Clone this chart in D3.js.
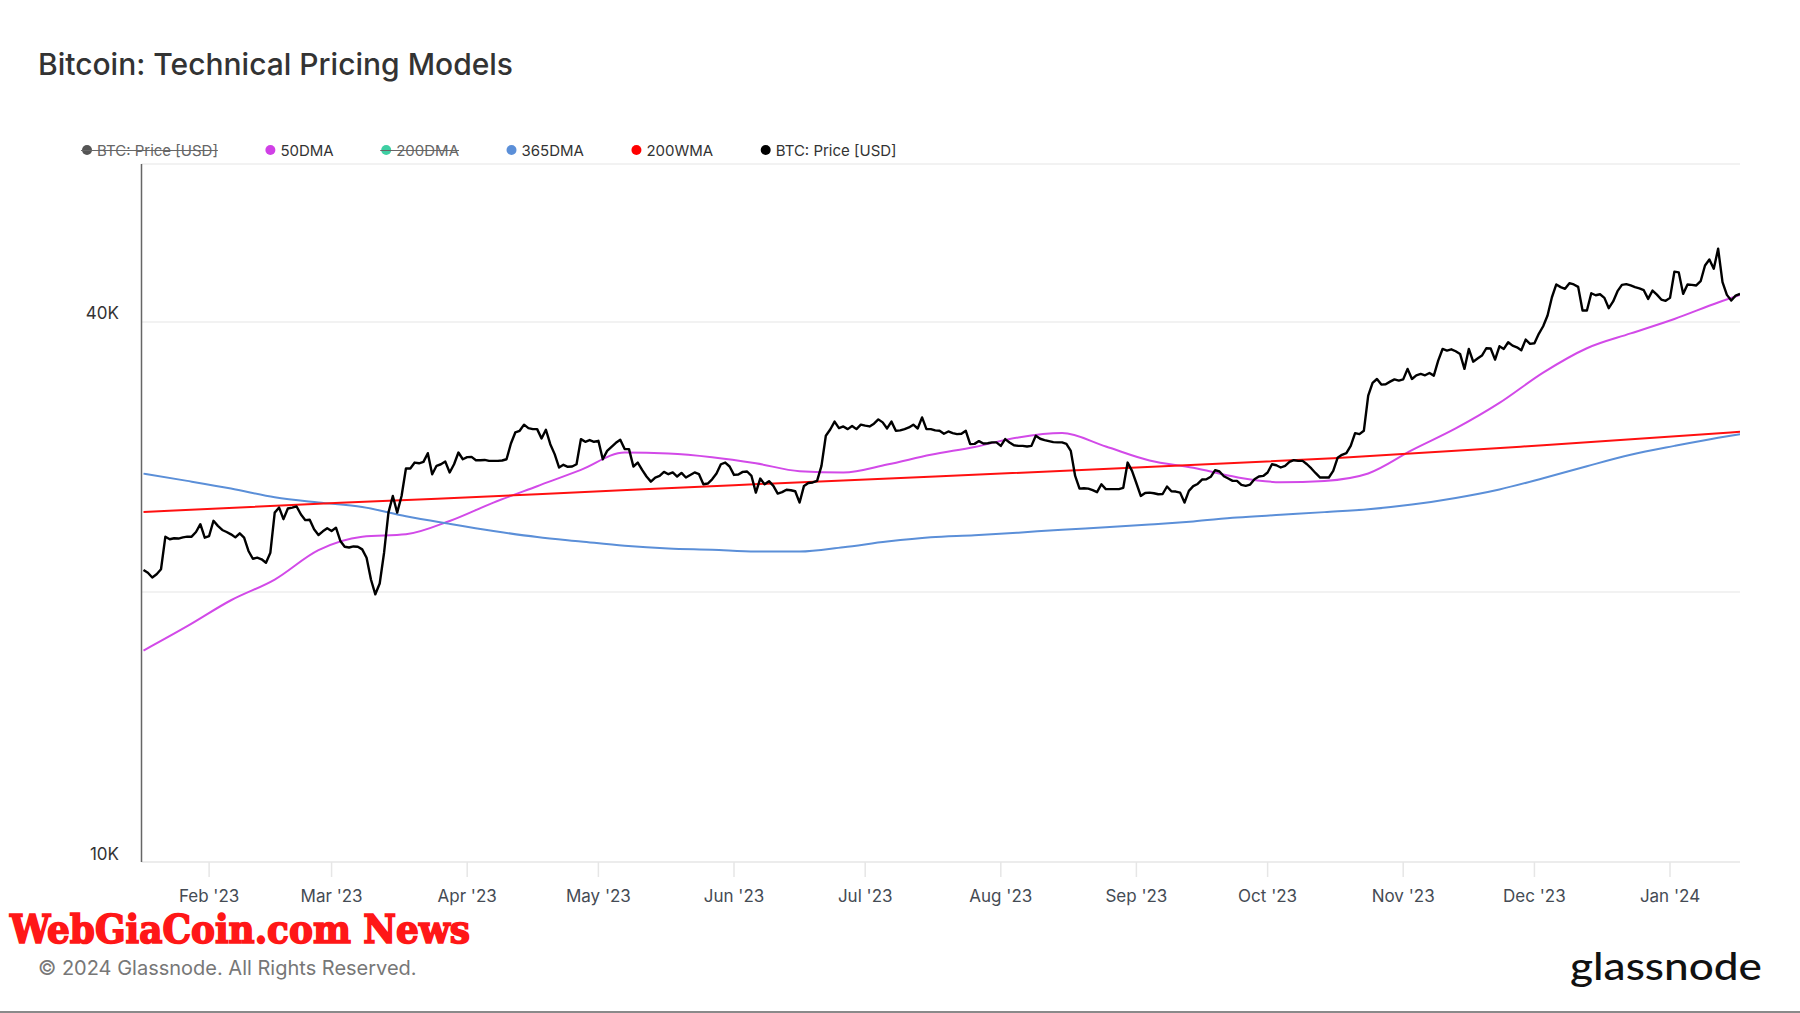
<!DOCTYPE html>
<html>
<head>
<meta charset="utf-8">
<script src="https://cdn.jsdelivr.net/npm/d3@7"></script>
<style>
  html, body { margin: 0; padding: 0; background: #fff; }
  svg { display: block; font-family: Inter, "Noto Sans", sans-serif; }
</style>
</head>
<body>
<svg id="chart" width="1800" height="1013"></svg>
<script>
// daily BTC price (USD), one value per day starting at priceStart
const priceStart = '2023-01-17';
const price = [
  21160, 21010, 20760, 20930, 21200, 23050, 22900, 22960, 22940, 23010,
  23050, 23050, 23330, 23800, 22990, 23090, 24010, 23700, 23450, 23330,
  23190, 23010, 23250, 22990, 22220, 21780, 21840, 21750, 21560, 22120,
  24520, 24840, 24110, 24780, 24840, 24910, 24400, 24050, 24070, 23490,
  23150, 23370, 23550, 23390, 23590, 22800, 22460, 22420, 22480, 22460,
  22310, 21840, 20650, 19880, 20440, 22120, 24520, 25590, 24520, 25590,
  27460, 27460, 27880, 27830, 27930, 28560, 27060, 27650, 27760, 27950,
  27180, 27760, 28610, 28120, 28270, 28290, 28050, 28050, 28070, 28000,
  28000, 28000, 28030, 28120, 29280, 30120, 30250, 30730, 30460, 30380,
  30380, 29660, 30330, 29230, 28490, 27530, 27720, 27580, 27600, 27760,
  29610, 29410, 29540, 29410, 29480, 28120, 28730, 29030, 29330, 29560,
  28860, 28860, 27600, 27880, 27360, 26900, 26550, 26830, 26940, 27220,
  27060, 27180, 26900, 27150, 26830, 27010, 27180, 27060, 26370, 26420,
  26710, 27110, 27760, 27880, 27600, 27010, 27040, 27220, 27250, 26940,
  25810, 26760, 26370, 26580, 26260, 25750, 25840, 26000, 25970, 25900,
  25160, 26260, 26460, 26490, 26600, 27650, 29870, 30350, 30970, 30460,
  30590, 30380, 30620, 30380, 30730, 30650, 30590, 30810, 31150, 30910,
  30430, 30970, 30250, 30280, 30380, 30510, 30730, 30430, 31310, 30380,
  30380, 30280, 30250, 30020, 30200, 30070, 29990, 30020, 30250, 29230,
  29250, 29460, 29280, 29300, 29360, 29360, 29100, 29610, 29360, 29150,
  29100, 29100, 29050, 29100, 29870, 29640, 29540, 29460, 29380, 29360,
  29360, 29250, 28730, 26940, 26080, 26100, 26080, 25970, 25840, 26370,
  26040, 26040, 26040, 26040, 26130, 27880, 27290, 26440, 25590, 25790,
  25810, 25770, 25700, 25720, 26220, 25900, 25880, 25810, 25160, 25930,
  26240, 26390, 26690, 26710, 26880, 27340, 27250, 26920, 26760, 26600,
  26600, 26330, 26260, 26350, 26710, 26900, 26940, 27180, 27760, 27690,
  27530, 27650, 27930, 28050, 28000, 28000, 27760, 27460, 27130, 26830,
  26830, 26830, 27290, 28220, 28440, 28560, 29100, 30070, 29990, 30250,
  33100, 34200, 34550, 34060, 34090, 34320, 34520, 34410, 34520, 35460,
  34550, 34880, 35000, 34880, 35090, 34850, 36220, 37320, 37170, 37290,
  37100, 36850, 35460, 37320, 36120, 36410, 36690, 37390, 37360, 36310,
  37580, 37320, 37970, 37640, 37480, 37200, 38230, 37810, 37870, 38800,
  39560, 40670, 42620, 44040, 43740, 43550, 44190, 44040, 43770, 41190,
  41190, 43060, 42840, 42950, 42550, 41440, 42160, 43290, 44000, 44080,
  43930, 43740, 43590, 43400, 42440, 43360, 42910, 42370, 42230, 42550,
  45510, 45430, 42990, 44040, 44000, 43930, 44410, 46240, 46960, 45850,
  48270, 44300, 42880, 42260, 42800, 42990
];

const maDates = [
  '2023-01-17', '2023-01-27', '2023-02-06', '2023-02-16', '2023-02-26', '2023-03-08',
  '2023-03-18', '2023-03-28', '2023-04-07', '2023-04-17', '2023-04-27', '2023-05-07',
  '2023-05-17', '2023-05-27', '2023-06-06', '2023-06-16', '2023-06-26', '2023-07-06',
  '2023-07-16', '2023-07-26', '2023-08-05', '2023-08-15', '2023-08-25', '2023-09-04',
  '2023-09-14', '2023-09-24', '2023-10-04', '2023-10-14', '2023-10-24', '2023-11-03',
  '2023-11-13', '2023-11-23', '2023-12-03', '2023-12-13', '2023-12-23', '2024-01-02',
  '2024-01-12', '2024-01-17'
];
const ma50 = [
  17210, 18320, 19580, 20650, 22270, 23050, 23190, 24000, 25160, 26240,
  27360, 28610, 28540, 28270, 27830, 27270, 27180, 27740, 28440, 29020,
  29740, 30070, 29050, 28030, 27510, 26850, 26510, 26600, 27110, 28780,
  30430, 32490, 35120, 37390, 38840, 40310, 42050, 42870
];
const ma365 = [
  27100, 26600, 26080, 25500, 25160, 24880, 24290, 23820, 23390, 23030,
  22770, 22520, 22360, 22290, 22190, 22190, 22440, 22760, 23010, 23130,
  23290, 23470, 23610, 23780, 23970, 24210, 24380, 24550, 24730, 25030,
  25460, 26020, 26780, 27620, 28440, 29100, 29720, 29990
];

const wmaDates = ['2023-01-17', '2023-03-03', '2023-04-17', '2023-06-01', '2023-07-17',
                  '2023-09-01', '2023-10-16', '2023-12-03', '2024-01-17'];
const wma200 = [24560, 25140, 25700, 26310, 26900, 27530, 28190, 29150, 30170];

const monthTicks = ['2023-02-01', '2023-03-01', '2023-04-01', '2023-05-01', '2023-06-01', '2023-07-01',
                    '2023-08-01', '2023-09-01', '2023-10-01', '2023-11-01', '2023-12-01', '2024-01-01'];
const gridValues = [20000, 40000, 60000];
const yLabelValues = [10000, 40000];

const legendItems = [
  { name: 'BTC: Price [USD]', color: '#555555', hidden: true },
  { name: '50DMA', color: '#d040e6', hidden: false },
  { name: '200DMA', color: '#3ecfa3', hidden: true },
  { name: '365DMA', color: '#5b8fd8', hidden: false },
  { name: '200WMA', color: '#ff0000', hidden: false },
  { name: 'BTC: Price [USD]', color: '#000000', hidden: false }
];

const parse = d3.timeParse('%Y-%m-%d');
const svg = d3.select('#chart');

const margin = { left: 141.5, right: 1740, top: 164, bottom: 862 };

const x = d3.scaleTime()
  .domain([new Date(2023, 0, 16, 13), new Date(2024, 0, 17)])
  .range([margin.left, margin.right]);

const y = d3.scaleLog()
  .domain([10000, 60000])
  .range([margin.bottom, margin.top]);

// title
svg.append('text')
  .attr('x', 38).attr('y', 75)
  .attr('font-size', 30)
  .attr('font-weight', 500)
  .attr('fill', '#333')
  .text('Bitcoin: Technical Pricing Models');

// legend
const legend = svg.append('g').attr('font-size', 15);
let lx = 87;
legendItems.forEach(item => {
  const g = legend.append('g');
  g.append('circle')
    .attr('cx', lx).attr('cy', 150).attr('r', 5)
    .attr('fill', item.color);
  const t = g.append('text')
    .attr('x', lx + 10).attr('y', 155.5)
    .attr('fill', item.hidden ? '#666' : '#333')
    .text(item.name);
  const w = t.node().getComputedTextLength();
  if (item.hidden) {
    g.append('line')
      .attr('x1', lx - 6).attr('x2', lx + 10 + w)
      .attr('y1', 150.5).attr('y2', 150.5)
      .attr('stroke', '#666').attr('stroke-width', 1.2);
  }
  lx += 10 + w + 52.5;
});

// grid
svg.append('g')
  .selectAll('line')
  .data(gridValues)
  .join('line')
  .attr('x1', margin.left).attr('x2', margin.right)
  .attr('y1', d => y(d)).attr('y2', d => y(d))
  .attr('stroke', '#eeeeee').attr('stroke-width', 1.5);

// x axis
const xAxis = svg.append('g');
xAxis.append('line')
  .attr('x1', margin.left).attr('x2', margin.right)
  .attr('y1', margin.bottom).attr('y2', margin.bottom)
  .attr('stroke', '#e6e6e6').attr('stroke-width', 1.5);

xAxis.selectAll('.tick')
  .data(monthTicks.map(parse))
  .join('line')
  .attr('class', 'tick')
  .attr('x1', d => x(d)).attr('x2', d => x(d))
  .attr('y1', margin.bottom).attr('y2', margin.bottom + 15)
  .attr('stroke', '#e6e6e6').attr('stroke-width', 1.5);

xAxis.selectAll('.tick-label')
  .data(monthTicks.map(parse))
  .join('text')
  .attr('class', 'tick-label')
  .attr('x', d => x(d)).attr('y', 902)
  .attr('text-anchor', 'middle')
  .attr('font-size', 17)
  .attr('fill', '#454b54')
  .text(d3.timeFormat("%b '%y"));

// y axis
svg.append('line')
  .attr('x1', margin.left).attr('x2', margin.left)
  .attr('y1', margin.top).attr('y2', margin.bottom)
  .attr('stroke', '#666').attr('stroke-width', 1.5);

svg.append('g')
  .selectAll('text')
  .data(yLabelValues)
  .join('text')
  .attr('x', 119)
  .attr('y', d => y(d) - 2.5)
  .attr('text-anchor', 'end')
  .attr('font-size', 17)
  .attr('fill', '#333')
  .text(d => d3.format('~s')(d).toUpperCase());

// series
svg.append('clipPath').attr('id', 'plot-clip')
  .append('rect')
  .attr('x', margin.left).attr('y', margin.top)
  .attr('width', margin.right - margin.left)
  .attr('height', margin.bottom - margin.top);

const plot = svg.append('g').attr('clip-path', 'url(#plot-clip)');

const smooth = d3.line()
  .x(d => x(d.date))
  .y(d => y(d.value))
  .curve(d3.curveMonotoneX);

const zip = (dates, values) => dates.map((d, i) => ({ date: parse(d), value: values[i] }));

plot.append('path')
  .datum(zip(maDates, ma50))
  .attr('fill', 'none')
  .attr('stroke', '#d24ae8')
  .attr('stroke-width', 2)
  .attr('d', smooth);

plot.append('path')
  .datum(zip(maDates, ma365))
  .attr('fill', 'none')
  .attr('stroke', '#5b8fd8')
  .attr('stroke-width', 2)
  .attr('d', smooth);

plot.append('path')
  .datum(zip(wmaDates, wma200))
  .attr('fill', 'none')
  .attr('stroke', '#ff1010')
  .attr('stroke-width', 2)
  .attr('d', smooth);

const start = parse(priceStart);
const priceData = price.map((v, i) => ({ date: d3.timeDay.offset(start, i), value: v }));

plot.append('path')
  .datum(priceData)
  .attr('fill', 'none')
  .attr('stroke', '#000')
  .attr('stroke-width', 2.4)
  .attr('stroke-linejoin', 'round')
  .attr('d', d3.line().x(d => x(d.date)).y(d => y(d.value)));

// watermark and footer
svg.append('text')
  .attr('x', 10).attr('y', 943)
  .attr('font-family', '"DejaVu Serif Condensed", "DejaVu Serif", serif')
  .attr('font-weight', 'bold')
  .attr('font-size', 40)
  .attr('fill', '#ff1717')
  .attr('stroke', '#ff1717')
  .attr('stroke-width', 1.6)
  .attr('textLength', 460)
  .attr('lengthAdjust', 'spacingAndGlyphs')
  .text('WebGiaCoin.com News');

svg.append('text')
  .attr('x', 38).attr('y', 975)
  .attr('font-size', 20)
  .attr('fill', '#777')
  .text('© 2024 Glassnode. All Rights Reserved.');

svg.append('text')
  .attr('x', 1570).attr('y', 980)
  .attr('font-family', 'Lato, Inter, sans-serif')
  .attr('font-weight', 500)
  .attr('font-size', 38)
  .attr('fill', '#111')
  .attr('textLength', 192)
  .attr('lengthAdjust', 'spacingAndGlyphs')
  .text('glassnode');

svg.append('line')
  .attr('x1', 0).attr('x2', 1800)
  .attr('y1', 1012).attr('y2', 1012)
  .attr('stroke', '#8a8a8a').attr('stroke-width', 2);
</script>
</body>
</html>
